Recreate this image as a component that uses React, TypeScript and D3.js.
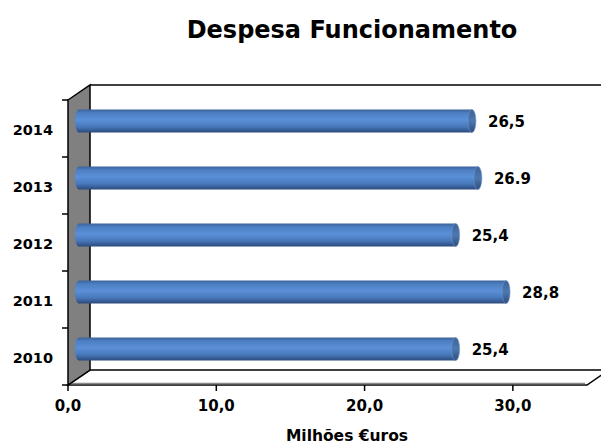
import React from "react";
import * as d3 from "d3";

const years = ["2014", "2013", "2012", "2011", "2010"];
const values = [26.5, 26.9, 25.4, 28.8, 25.4];
const valueLabels = ["26,5", "26.9", "25,4", "28,8", "25,4"];
const xTicks = [0, 10, 20, 30];
const xTickLabels = ["0,0", "10,0", "20,0", "30,0"];

const width = 601;
const height = 446;
const plot = { left: 68, right: 587, top: 100, bottom: 385 };
const depth = { dx: 22, dy: -15 };
const font = "'DejaVu Sans', Arial, sans-serif";

export default function App() {
  const x = d3.scaleLinear().domain([0, 35]).range([plot.left, plot.right]);
  const y = d3.scaleBand().domain(years).range([plot.top, plot.bottom]);
  const barH = 23;
  const rx = 4;
  const midX = depth.dx / 2;
  const midY = depth.dy / 2;

  return (
    <svg width={width} height={height} style={{ position: "absolute", left: 0, top: 0 }}>
      <defs>
        <linearGradient id="cyl" x1="0" y1="0" x2="0" y2="1">
          <stop offset="0" stopColor="#3b639c" />
          <stop offset="0.15" stopColor="#4c7ec2" />
          <stop offset="0.45" stopColor="#5a90d8" />
          <stop offset="0.75" stopColor="#4878bb" />
          <stop offset="1" stopColor="#2b4a7c" />
        </linearGradient>
        <linearGradient id="cap" x1="0" y1="0" x2="0" y2="1">
          <stop offset="0" stopColor="#3d6296" />
          <stop offset="0.5" stopColor="#4d78b0" />
          <stop offset="1" stopColor="#2e4d7d" />
        </linearGradient>
      </defs>

      <text x={352} y={38} textAnchor="middle" fontFamily={font} fontWeight="bold" fontSize={24}>
        Despesa Funcionamento
      </text>

      {/* back wall top edge */}
      <line x1={plot.left + depth.dx} y1={plot.top + depth.dy} x2={width + 10} y2={plot.top + depth.dy} stroke="#000" strokeWidth={1.5} />

      {/* floor */}
      <polygon
        points={[
          [plot.left, plot.bottom],
          [plot.right, plot.bottom],
          [plot.right + depth.dx, plot.bottom + depth.dy],
          [plot.left + depth.dx, plot.bottom + depth.dy],
        ].map((p) => p.join(",")).join(" ")}
        fill="#fff"
        stroke="#000"
        strokeWidth={1.5}
      />
      <line x1={plot.left + 2} y1={plot.bottom - 1.5} x2={plot.right - 2} y2={plot.bottom - 1.5} stroke="#888" strokeWidth={1.5} />

      {/* left wall */}
      <polygon
        points={[
          [plot.left, plot.top],
          [plot.left + depth.dx, plot.top + depth.dy],
          [plot.left + depth.dx, plot.bottom + depth.dy],
          [plot.left, plot.bottom],
        ].map((p) => p.join(",")).join(" ")}
        fill="#808080"
        stroke="#000"
        strokeWidth={1.5}
      />

      {/* category ticks */}
      {[...years.map((d) => y(d)!), plot.bottom].map((ty, i) => (
        <line key={i} x1={plot.left - 6} x2={plot.left} y1={ty} y2={ty} stroke="#000" strokeWidth={1.5} />
      ))}
      {years.map((d) => (
        <text key={d} x={53} y={y(d)! + y.bandwidth() / 2 + 6} textAnchor="end" fontFamily={font} fontWeight="bold" fontSize={14.5}>
          {d}
        </text>
      ))}

      {/* value ticks */}
      {xTicks.map((t, i) => (
        <g key={t}>
          <line x1={x(t)} x2={x(t)} y1={plot.bottom} y2={plot.bottom + 6} stroke="#000" strokeWidth={1.5} />
          <text x={x(t)} y={plot.bottom + 26} textAnchor="middle" fontFamily={font} fontWeight="bold" fontSize={15}>
            {xTickLabels[i]}
          </text>
        </g>
      ))}

      {/* bars */}
      {years.map((d, i) => {
        const cy = y(d)! + y.bandwidth() / 2 + midY;
        const x0 = x(0) + midX;
        const x1 = x(values[i]) + midX;
        return (
          <g key={d}>
            <ellipse cx={x0} cy={cy} rx={rx} ry={barH / 2} fill="url(#cyl)" />
            <rect x={x0} y={cy - barH / 2} width={x1 - x0} height={barH} fill="url(#cyl)" />
            <ellipse cx={x1} cy={cy} rx={rx} ry={barH / 2} fill="url(#cap)" stroke="#6f95c8" strokeWidth={0.6} />
            <text x={x1 + rx + 12} y={cy + 6} fontFamily={font} fontWeight="bold" fontSize={15}>
              {valueLabels[i]}
            </text>
          </g>
        );
      })}

      <text x={347} y={441} textAnchor="middle" fontFamily={font} fontWeight="bold" fontSize={15.5}>
        Milhões €uros
      </text>
    </svg>
  );
}
